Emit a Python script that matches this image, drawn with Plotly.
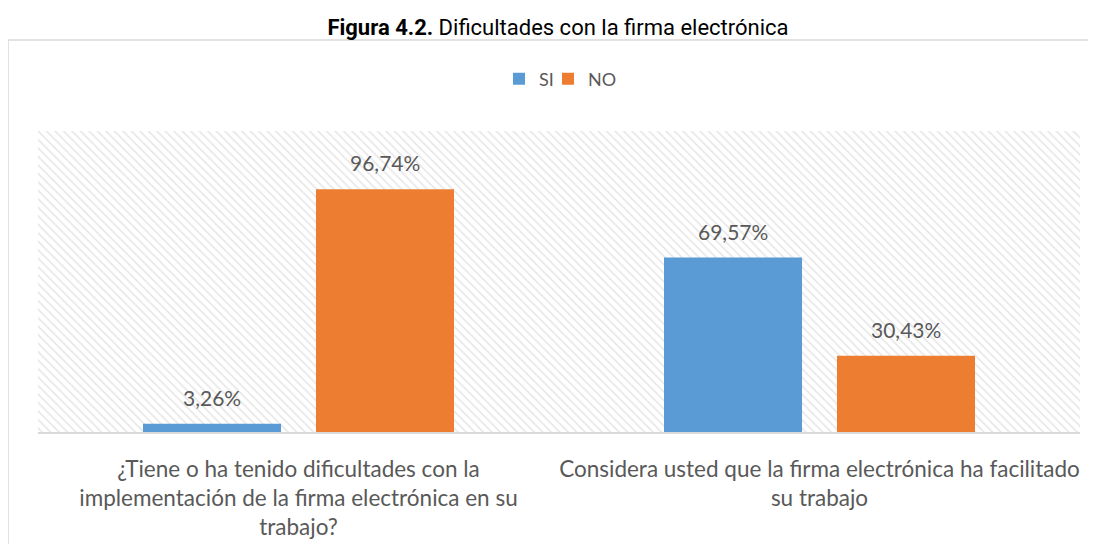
import plotly.graph_objects as go

categories = [
    "¿Tiene o ha tenido dificultades con la<br>implementación de la firma electrónica en su<br>trabajo?",
    "Considera usted que la firma electrónica ha facilitado<br>su trabajo",
]
si_values = [3.26, 69.57]
no_values = [96.74, 30.43]
series_names = ["SI", "NO"]
series_colors = ["#5B9BD5", "#ED7D31"]

# the page body adds an 8px offset; coordinates below are in figure pixels
W, H = 1096, 544
L, R, T, B = 30, 24, 123, 120
pw = W - L - R
ph = H - T - B
FONT = "Lato, Open Sans, sans-serif"

fig = go.Figure()

# hatched plot-area background (decoration, on the base axes)
fig.add_trace(go.Scatter(
    x=[0, 1, 1, 0, 0], y=[0, 0, 1, 1, 0],
    xaxis="x", yaxis="y", mode="lines", line=dict(width=0),
    fill="toself", fillcolor="rgba(255,255,255,0)",
    fillpattern=dict(shape="\\", fgcolor="#cfcfcf", bgcolor="white", size=6, solidity=0.28),
    hoverinfo="skip", showlegend=False,
))

for name, vals, col in zip(series_names, [si_values, no_values], series_colors):
    fig.add_trace(go.Bar(
        name=name, x=categories, y=vals, marker=dict(color=col, line=dict(width=0)),
        xaxis="x2", yaxis="y2",
    ))

# empty legend spacer (on the base axes, draws nothing) so the last legend label is not clipped
fig.add_trace(go.Scatter(
    name=" ", x=[None], y=[None], mode="markers",
    marker=dict(color="rgba(0,0,0,0)", size=1, line=dict(width=0)),
    xaxis="x", yaxis="y", showlegend=True, hoverinfo="skip",
))

def fmt(v):
    return f"{v:.2f}".replace(".", ",") + "%"

slot_px = pw / 2 * (1 - 0.336) / 2
for i, vals in enumerate([si_values, no_values]):
    shift = (i - 0.5) * slot_px
    for c, v in zip(categories, vals):
        fig.add_annotation(
            x=c, y=v, xref="x2", yref="y2", text=fmt(v), showarrow=False,
            xshift=shift, yshift=12, yanchor="bottom",
            font=dict(family=FONT, size=21, color="#595959"),
        )

fig.update_layout(
    width=W, height=H,
    margin=dict(l=L, r=R, t=T, b=B),
    paper_bgcolor="white", plot_bgcolor="white",
    barmode="group", bargap=0.336, bargroupgap=0.202,
    separators=",.",
    title=dict(
        text="<b>Figura 4.2.</b> Dificultades con la firma electrónica",
        x=550 / W, xanchor="center", xref="container",
        y=1 - 19 / H, yanchor="middle", yref="container",
        font=dict(family="Roboto, Liberation Sans, sans-serif", size=22, color="#000000"),
    ),
    legend=dict(
        orientation="h", x=(491 - L) / pw, xanchor="left", y=1 + (T - 71) / ph, yanchor="middle",
        font=dict(family=FONT, size=18, color="#595959"),
        entrywidth=4, entrywidthmode="pixels", traceorder="normal",
        bgcolor="rgba(0,0,0,0)",
    ),
    xaxis=dict(range=[0, 1], visible=False, fixedrange=True),
    yaxis=dict(range=[0, 1], visible=False, fixedrange=True),
    xaxis2=dict(
        overlaying="x", type="category", showgrid=False, zeroline=False,
        showline=True, linecolor="#d9d9d9", linewidth=1.5, ticks="",
        tickfont=dict(family=FONT, size=22.5, color="#595959"),
        ticklabelstandoff=16,
    ),
    yaxis2=dict(
        overlaying="y", range=[0, 120], visible=False, showgrid=False, zeroline=False,
    ),
    shapes=[dict(
        type="rect", xref="paper", yref="paper",
        x0=(0 - L) / pw, x1=(W + 10 - L) / pw,
        y0=-(H + 10 - T - ph) / ph, y1=(H - B - 32) / ph,
        line=dict(color="#d9d9d9", width=1.5), fillcolor="rgba(0,0,0,0)", layer="below",
    )],
)

fig.write_html("out.html")
